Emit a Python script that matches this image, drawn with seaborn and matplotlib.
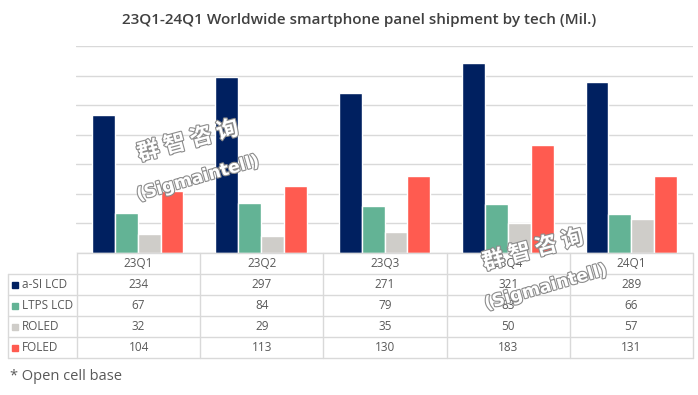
import numpy as np
import pandas as pd
import matplotlib
matplotlib.use("Agg")
from matplotlib import pyplot as plt
import matplotlib.patheffects as pe
import seaborn as sns

# chart data
quarters = ["23Q1", "23Q2", "23Q3", "23Q4", "24Q1"]
techs = ["a-SI LCD", "LTPS LCD", "ROLED", "FOLED"]
asi_lcd = [234, 297, 271, 321, 289]
ltps_lcd = [67, 84, 79, 83, 66]
roled = [32, 29, 35, 50, 57]
foled = [104, 113, 130, 183, 131]
colors = ["#002060", "#63B395", "#CFCDC9", "#FF5B50"]

sns.set_theme(style="white")
plt.rcParams["font.family"] = ["Open Sans", "Noto Sans CJK SC", "DejaVu Sans"]

values = [asi_lcd, ltps_lcd, roled, foled]
df = pd.DataFrame({
    "quarter": quarters * len(techs),
    "tech": np.repeat(techs, len(quarters)),
    "value": np.concatenate(values),
})

W, H = 698, 395
fig = plt.figure(figsize=(W / 100, H / 100), dpi=100)
fig.patch.set_facecolor("white")

# bars
ax = fig.add_axes([76 / W, 1 - 253 / H, (693 - 76) / W, (253 - 46) / H])
sns.barplot(data=df, x="quarter", y="value", hue="tech", palette=colors,
            width=0.74, edgecolor="white", linewidth=1, ax=ax, legend=False,
            saturation=1)
ax.set_xlim(-0.5, 4.5)
ax.set_ylim(0, 350)
ax.set_yticks(range(0, 351, 50))
ax.yaxis.grid(True, color="#D9D9D9", lw=1)
ax.set_axisbelow(True)
ax.tick_params(left=False, bottom=False, labelleft=False, labelbottom=False)
for s in ax.spines.values():
    s.set_visible(False)
ax.set_xlabel("")
ax.set_ylabel("")

# data table
grid_c = "#D9D9D9"
txt_c = "#595959"
lab_w = 0.56
tax = fig.add_axes([8 / W, 1 - 358 / H, (693 - 8) / W, (358 - 253) / H])
tax.set_xlim(-0.5 - lab_w, 4.5)
tax.set_ylim(5, 0)
tax.axis("off")
tax.plot([-0.5, 4.5], [0, 0], color=grid_c, lw=1, clip_on=False)
for r in range(1, 6):
    tax.plot([-0.5 - lab_w, 4.5], [r, r], color=grid_c, lw=1, clip_on=False)
tax.plot([-0.5 - lab_w] * 2, [1, 5], color=grid_c, lw=1, clip_on=False)
for i in range(6):
    tax.plot([i - 0.5] * 2, [0, 5], color=grid_c, lw=1, clip_on=False)

for i, q in enumerate(quarters):
    tax.text(i, 0.5, q, ha="center", va="center", fontsize=8.5, color=txt_c)
for r, (t, vals, c) in enumerate(zip(techs, values, colors)):
    y = r + 1.5
    tax.plot(-0.5 - lab_w + 0.06, y, marker="s", ms=5, color=c, clip_on=False)
    tax.text(-0.5 - lab_w + 0.11, y, t, ha="left", va="center", fontsize=8.5, color=txt_c)
    for i, v in enumerate(vals):
        tax.text(i, y, str(v), ha="center", va="center", fontsize=8.5, color=txt_c)

# title and footnote
fig.text(359 / W, 1 - 20 / H, "23Q1-24Q1 Worldwide smartphone panel shipment by tech (Mil.)",
         ha="center", va="center", fontsize=11, fontweight="semibold", color="#404040")
fig.text(10 / W, 1 - 377 / H, "* Open cell base", ha="left", va="center",
         fontsize=10.5, color=txt_c)

# watermarks
wm_fx = [pe.withStroke(linewidth=1.6, foreground="#8C8C8C")]
for (x1, y1), (x2, y2) in [((188, 141), (198, 178)), ((533, 250), (546, 287))]:
    fig.text(x1 / W, 1 - y1 / H, "群 智 咨 询", ha="center", va="center", rotation=15,
             fontsize=16, fontweight="bold", color="white", path_effects=wm_fx,
             family=["Noto Sans CJK SC", "DejaVu Sans"])
    fig.text(x2 / W, 1 - y2 / H, "(Sigmaintell)", ha="center", va="center", rotation=16,
             fontsize=12.5, fontweight="bold", color="white", path_effects=wm_fx,
             family=["DejaVu Sans"])

fig.savefig("out.png", dpi=100, facecolor="white")
